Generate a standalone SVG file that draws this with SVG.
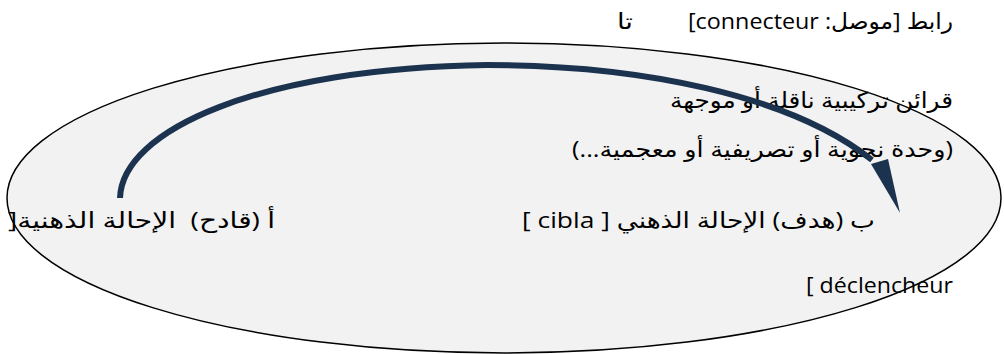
<svg xmlns="http://www.w3.org/2000/svg" width="1004" height="354" viewBox="0 0 1004 354">
<style>
.t{font-family:"Open Sans","DejaVu Sans",sans-serif;font-size:22px;fill:#000}
.rtl{direction:rtl}
.conn{fill:none;stroke:#1c3350;stroke-width:6}
</style>
<rect width="1004" height="354" fill="#fff"/>
<g id="frame-fill"><ellipse cx="504" cy="198" rx="497" ry="155" fill="#f2f2f2"/></g>
<g id="node-connector-label">
<text class="t rtl" direction="rtl" x="953" y="29" text-anchor="start" textLength="265" lengthAdjust="spacingAndGlyphs">رابط [موصل: connecteur]</text>
<text class="t" x="617" y="29" textLength="16" lengthAdjust="spacingAndGlyphs">تا</text>
</g>
<g id="node-cues">
<text class="t rtl" direction="rtl" x="953" y="108" text-anchor="start" textLength="283" lengthAdjust="spacingAndGlyphs">قرائن تركيبية ناقلة أو موجهة</text>
<text class="t rtl" direction="rtl" x="953" y="157" text-anchor="start" textLength="381" lengthAdjust="spacingAndGlyphs">(وحدة نحوية أو تصريفية أو معجمية...)</text>
</g>
<g id="node-a">
<text class="t rtl" direction="rtl" x="275" y="228" text-anchor="start" textLength="267" lengthAdjust="spacingAndGlyphs">أ (قادح)&#160; الإحالة الذهنية[</text>
</g>
<g id="node-b">
<text class="t rtl" direction="rtl" x="875" y="228" text-anchor="start" textLength="353" lengthAdjust="spacingAndGlyphs">ب (هدف) الإحالة الذهني [ cibla ]</text>
</g>
<g id="node-trigger">
<text class="t" x="806" y="293" textLength="147" lengthAdjust="spacingAndGlyphs">[ déclencheur</text>
</g>
<g id="frame-outline"><ellipse cx="504" cy="198" rx="497" ry="155" fill="none" stroke="#000" stroke-width="1.5"/></g>
<g id="connectors">
<path class="conn" d="M120,198 C122,130 260,68 487,65 C640,65 790,95 872,160"/>
<polygon points="871,164 888,159 900,213" fill="#1c3350"/>
</g>
</svg>
